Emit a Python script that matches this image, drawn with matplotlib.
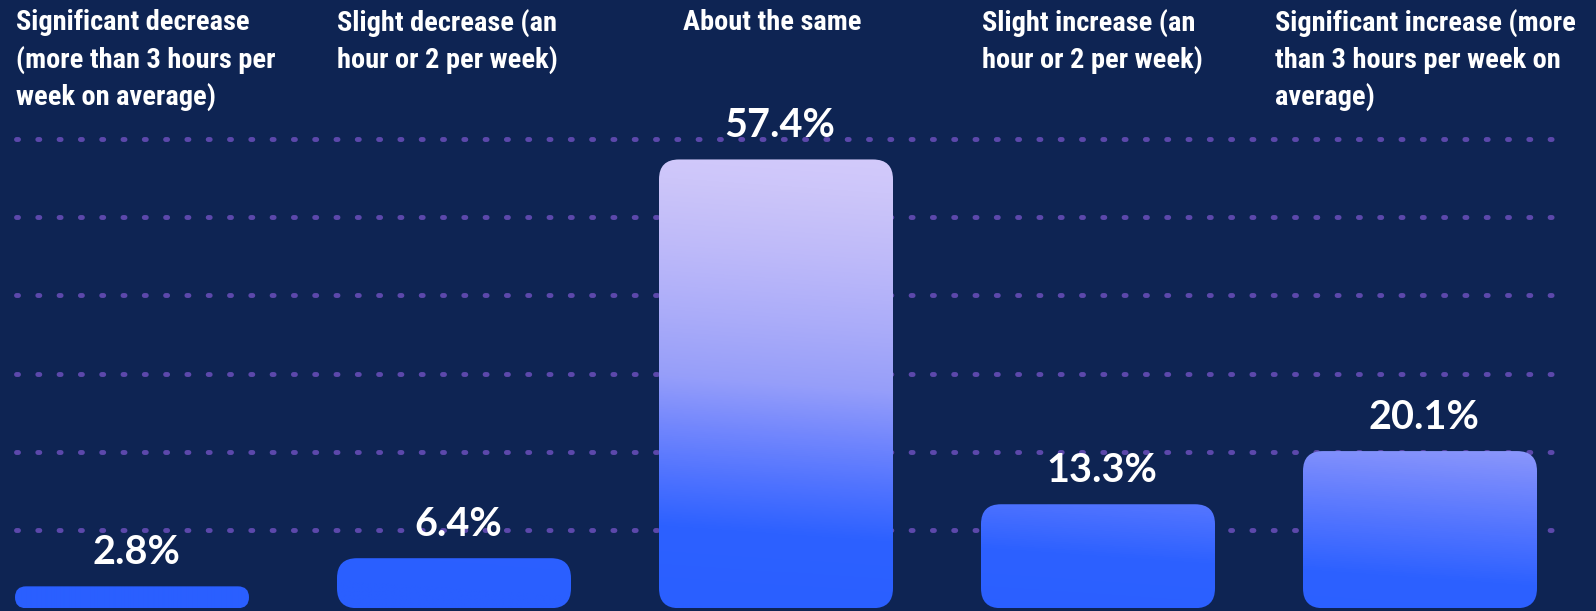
import numpy as np
import matplotlib
matplotlib.use("Agg")
import matplotlib.pyplot as plt
from matplotlib import font_manager as fm
from matplotlib.patches import FancyBboxPatch
from matplotlib.colors import LinearSegmentedColormap

# ---- data -------------------------------------------------------------
categories = [
    "Significant decrease\n(more than 3 hours per\nweek on average)",
    "Slight decrease (an\nhour or 2 per week)",
    "About the same",
    "Slight increase (an\nhour or 2 per week)",
    "Significant increase (more\nthan 3 hours per week on\naverage)",
]
shares = [2.8, 6.4, 57.4, 13.3, 20.1]
grid_levels = [10, 20, 30, 40, 50, 60]

# ---- style ------------------------------------------------------------
W, H, DPI = 1596, 611, 100
BG = "#0e2453"
DOT = "#5c48ab"
plt.rcParams["lines.scale_dashes"] = False


def condensed_bold():
    """Pick a narrow bold face for the headings if one is installed."""
    wanted = ["Roboto Condensed", "Liberation Sans Narrow", "Open Sans Condensed",
              "DejaVu Sans Condensed", "Noto Sans Condensed"]
    entries = fm.fontManager.ttflist
    for name in wanted:
        for f in entries:
            if f.name == name and f.style == "normal" and \
                    (f.weight in ("bold", 700, 600, "semibold", "demibold")):
                return fm.FontProperties(fname=f.fname)
    for f in entries:
        low = f.fname.lower()
        if ("condensed" in low or "narrow" in low) and "bold" in low \
                and "italic" not in low and "oblique" not in low:
            return fm.FontProperties(fname=f.fname)
    return None


LABEL_FP = condensed_bold()
VALUE_FONT = ["Lato", "DejaVu Sans"]

# vertical gradient stops (in percent units) from blue to lavender
grad_pos = [0, 10, 16.6, 22.9, 29.2, 37.7, 46, 54.6, 60]
grad_col = ["#2a5fff", "#2d61ff", "#5073ff", "#7387fd", "#969efa",
            "#acadf9", "#bebaf9", "#cdc6fa", "#d4cbfb"]
cmap = LinearSegmentedColormap.from_list(
    "bars", list(zip(np.array(grad_pos) / grad_pos[-1], grad_col)))

fig = plt.figure(figsize=(W / DPI, H / DPI), dpi=DPI, facecolor=BG)
ax = fig.add_axes([0, 0, 1, 1])
ax.set_facecolor(BG)
ax.set_axis_off()

# pixel geometry of the scales
px_x = 322.0      # pixels per category step
px_y = 7.89       # pixels per percentage point
x0_px = 132.0     # centre of the first category
y0_px = 613.8     # baseline, measured from the top edge
xlim = (-x0_px / px_x, (W - x0_px) / px_x)
ylim = (-(y0_px - H) / px_y, y0_px / px_y)

# dotted guide lines
gx0 = (16.7 - x0_px) / px_x - 1.0 / px_x
gx1 = (1552 - x0_px) / px_x
dot_lw = 4.9 * 72 / DPI
dash = (2.0 * 72 / DPI, 19.3 * 72 / DPI)
for g in grid_levels:
    ax.plot([gx0, gx1], [g, g], color=DOT, lw=dot_lw,
            linestyle=(0, dash), dash_capstyle="round", zorder=1)

# rounded bars with a slightly tilted gradient fill
bar_w = 234.0 / px_x
aspect = px_x / px_y
tilt = 0.07 * px_x / px_y           # gradient isolines fall to the right
x_ref = (720 - x0_px) / px_x
for i, v in enumerate(shares):
    h_px = v * px_y
    r = min(20.0, h_px / 2) / px_x
    left = i - bar_w / 2
    patch = FancyBboxPatch((left, 0), bar_w, v,
                           boxstyle=f"round,pad=0,rounding_size={r}",
                           mutation_aspect=aspect, linewidth=0,
                           facecolor="none", zorder=2)
    ax.add_patch(patch)
    nx, ny = 80, max(int(h_px), 4)
    xs = np.linspace(left, left + bar_w, nx)
    ys = np.linspace(0, v, ny)
    X, Y = np.meshgrid(xs, ys)
    U = np.clip((Y + (X - x_ref) * tilt) / grad_pos[-1], 0, 1)
    img = ax.imshow(cmap(U), extent=[left, left + bar_w, 0, v],
                    origin="lower", aspect="auto",
                    interpolation="bilinear", zorder=2)
    img.set_clip_path(patch)
    ax.annotate(f"{v:.1f}%", xy=(i, v), xytext=(4 * 72 / DPI, 22 * 72 / DPI),
                textcoords="offset points", ha="center", va="baseline",
                color="white", fontsize=28.5, fontweight="bold",
                family=VALUE_FONT, zorder=3)

ax.set_xlim(*xlim)
ax.set_ylim(*ylim)

# category headings across the top, one text per wrapped line
label_x_px = [16.3, 337, 683, 982, 1275]
first_baseline_px = 30.5
line_step_px = 37.0
if LABEL_FP is not None:
    head_kw = dict(fontproperties=LABEL_FP, fontsize=20.4)
else:
    head_kw = dict(family=["Roboto", "DejaVu Sans"], fontweight="bold",
                   fontsize=17.5)
for xp, text in zip(label_x_px, categories):
    for k, line in enumerate(text.split("\n")):
        yb = first_baseline_px + k * line_step_px
        fig.text(xp / W, 1 - yb / H, line, ha="left", va="baseline",
                 color="white", **head_kw)

fig.savefig("out.png", dpi=DPI, facecolor=BG)
